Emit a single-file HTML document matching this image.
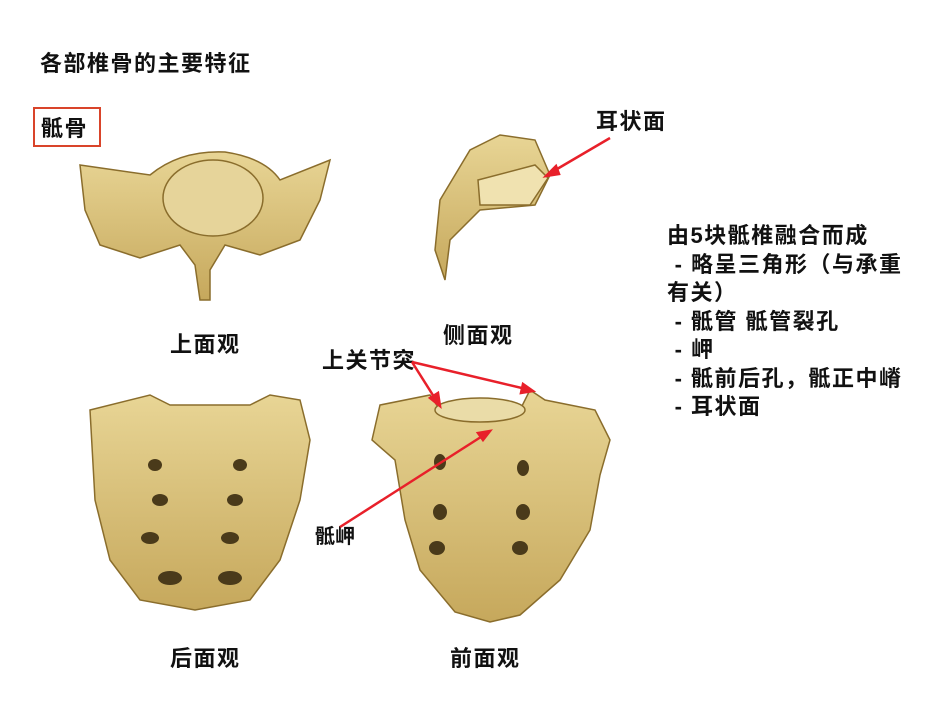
<!DOCTYPE html>
<html><head><meta charset="utf-8"><style>
body{margin:0;background:#fff;width:940px;height:702px;overflow:hidden;position:relative;font-family:"Liberation Sans","Noto Sans CJK SC",sans-serif;}
.t{position:absolute;font-weight:bold;color:#111;white-space:nowrap;font-size:22px;letter-spacing:1.5px}
</style></head><body>
<div class="t" style="left:40px;top:46px">各部椎骨的主要特征</div>
<div style="position:absolute;left:33px;top:107px;width:68px;height:40px;border:2px solid #d9442a;box-sizing:border-box"></div>
<div class="t" style="left:41px;top:111px">骶骨</div>
<div class="t" style="left:596px;top:104px">耳状面</div>
<div class="t" style="left:170px;top:327px">上面观</div>
<div class="t" style="left:443px;top:318px">侧面观</div>
<div class="t" style="left:322px;top:343px">上关节突</div>
<div class="t" style="left:315px;top:520px;font-size:20px;letter-spacing:0">骶岬</div>
<div class="t" style="left:170px;top:641px">后面观</div>
<div class="t" style="left:450px;top:641px">前面观</div>
<div class="t" style="left:667px;top:222px;line-height:28.5px">由5块骶椎融合而成<br>&nbsp;- 略呈三角形（与承重<br>有关）<br>&nbsp;- 骶管 骶管裂孔<br>&nbsp;- 岬<br>&nbsp;- 骶前后孔，骶正中嵴<br>&nbsp;- 耳状面</div>
<svg width="940" height="702" style="position:absolute;left:0;top:0">
<defs><linearGradient id="b" x1="0" y1="0" x2="0" y2="1"><stop offset="0" stop-color="#e8d595"/><stop offset="1" stop-color="#c6a85c"/></linearGradient></defs>
<g fill="url(#b)" stroke="#8a6d2c" stroke-width="1.5">
<path d="M80 165 L150 175 Q180 150 225 152 Q265 158 280 180 L330 160 L320 200 L300 240 L260 255 L225 245 L210 270 L210 300 L200 300 L195 265 L180 245 L140 258 L100 245 L85 210 Z"/>
<ellipse cx="213" cy="198" rx="50" ry="38" fill="#e6d49a"/>
<path d="M440 200 L470 150 L500 135 L535 140 L550 175 L535 205 L480 210 L450 240 L445 280 L435 250 Z"/>
<path d="M478 180 L535 165 L548 178 L530 205 L480 205 Z" fill="#f0e2b0"/>
<path d="M90 410 L150 395 L170 405 L250 405 L270 395 L300 400 L310 440 L300 500 L280 560 L250 600 L195 610 L140 600 L110 560 L95 500 Z"/>
<path d="M380 405 L430 395 L440 410 L520 410 L530 390 L545 400 L595 410 L610 440 L600 475 L590 530 L560 580 L520 615 L490 622 L455 612 L420 570 L405 520 L395 460 L372 440 Z"/>
<ellipse cx="480" cy="410" rx="45" ry="12" fill="#eadca8"/>
</g>
<g fill="#4a3a1a">
<ellipse cx="155" cy="465" rx="7" ry="6"/><ellipse cx="240" cy="465" rx="7" ry="6"/>
<ellipse cx="160" cy="500" rx="8" ry="6"/><ellipse cx="235" cy="500" rx="8" ry="6"/>
<ellipse cx="150" cy="538" rx="9" ry="6"/><ellipse cx="230" cy="538" rx="9" ry="6"/>
<ellipse cx="170" cy="578" rx="12" ry="7"/><ellipse cx="230" cy="578" rx="12" ry="7"/>
<ellipse cx="440" cy="462" rx="6" ry="8"/><ellipse cx="523" cy="468" rx="6" ry="8"/>
<ellipse cx="440" cy="512" rx="7" ry="8"/><ellipse cx="523" cy="512" rx="7" ry="8"/>
<ellipse cx="437" cy="548" rx="8" ry="7"/><ellipse cx="520" cy="548" rx="8" ry="7"/>
</g>
<g stroke="#e8202a" stroke-width="2.5" fill="#e8202a">
<line x1="610" y1="138" x2="552" y2="172"/><polygon points="546,176 556,166 559,174"/>
<line x1="412" y1="362" x2="436" y2="400"/><polygon points="440,406 430,398 438,393"/>
<line x1="412" y1="362" x2="526" y2="389"/><polygon points="533,391 523,384 521,393"/>
<line x1="340" y1="527" x2="484" y2="435"/><polygon points="490,431 478,433 483,440"/>
</g>
</svg>
</body></html>
